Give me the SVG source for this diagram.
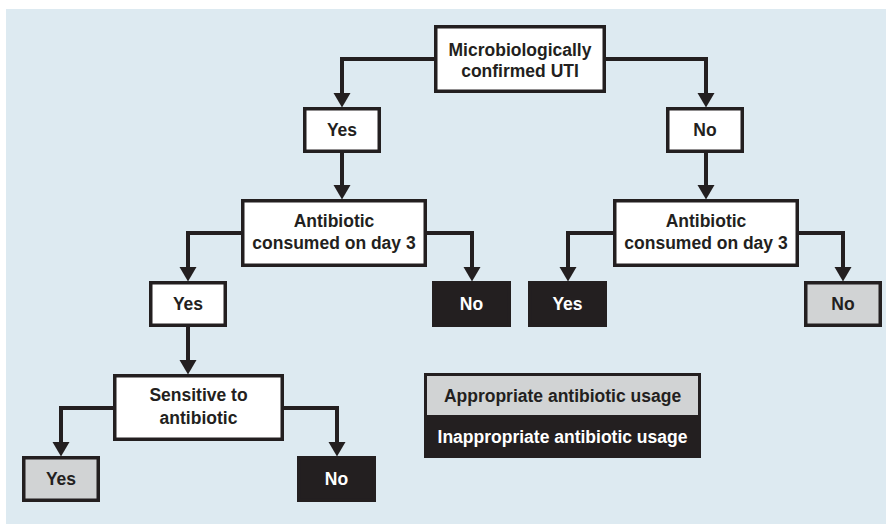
<svg xmlns="http://www.w3.org/2000/svg" width="886" height="524" viewBox="0 0 886 524">
<defs>
<style>
.bg{fill:#ddeaf1}
.w{fill:#ffffff;stroke:#231f20;stroke-width:3.5}
.g{fill:#d1d3d4;stroke:#231f20;stroke-width:3.5}
.k{fill:#231f20;stroke:#231f20;stroke-width:3.5}
.c{fill:none;stroke:#231f20;stroke-width:4;stroke-linejoin:miter}
text{font-family:"Liberation Sans",Arial,sans-serif;font-weight:bold;font-size:17.5px;text-anchor:middle}
.d{fill:#231f20}
.l{fill:#ffffff}
</style>
<marker id="ah" markerUnits="userSpaceOnUse" markerWidth="15" markerHeight="18" refX="0" refY="8.5" orient="auto" viewBox="0 0 15 17">
<path d="M0,0 L14.5,8.5 L0,17 z" fill="#231f20"/>
</marker>
</defs>
<rect class="bg" x="6" y="9" width="880" height="515"/>
<g id="connectors">
<path class="c" d="M434,59 H342 V93" marker-end="url(#ah)"/>
<path class="c" d="M606,59 H706 V93" marker-end="url(#ah)"/>
<path class="c" d="M342,153 V185" marker-end="url(#ah)"/>
<path class="c" d="M706,153 V185" marker-end="url(#ah)"/>
<path class="c" d="M241,233 H188 V267" marker-end="url(#ah)"/>
<path class="c" d="M427,233 H472 V267" marker-end="url(#ah)"/>
<path class="c" d="M613,233 H568 V267" marker-end="url(#ah)"/>
<path class="c" d="M799,233 H843 V267" marker-end="url(#ah)"/>
<path class="c" d="M188,327 V360" marker-end="url(#ah)"/>
<path class="c" d="M113,408 H61 V442" marker-end="url(#ah)"/>
<path class="c" d="M284,408 H337 V442" marker-end="url(#ah)"/>
</g>
<g id="n-uti">
<rect class="w" x="435.75" y="26.75" width="168.5" height="64.5"/>
<text class="d" x="520" y="56">Microbiologically</text>
<text class="d" x="520" y="77">confirmed UTI</text>
</g>
<g id="n-yes1">
<rect class="w" x="304.75" y="108.75" width="74.5" height="42.5"/>
<text class="d" x="342" y="136">Yes</text>
</g>
<g id="n-no1">
<rect class="w" x="667.75" y="108.75" width="74.5" height="42.5"/>
<text class="d" x="705" y="136">No</text>
</g>
<g id="n-ab1">
<rect class="w" x="242.75" y="200.75" width="182.5" height="64.5"/>
<text class="d" x="334" y="227">Antibiotic</text>
<text class="d" x="334" y="249">consumed on day 3</text>
</g>
<g id="n-ab2">
<rect class="w" x="614.75" y="200.75" width="182.5" height="64.5"/>
<text class="d" x="706" y="227">Antibiotic</text>
<text class="d" x="706" y="249">consumed on day 3</text>
</g>
<g id="n-yes2">
<rect class="w" x="150.75" y="282.75" width="74.5" height="42.5"/>
<text class="d" x="188" y="310">Yes</text>
</g>
<g id="n-no2">
<rect class="k" x="433.75" y="282.75" width="75.5" height="42.5"/>
<text class="l" x="471.5" y="310">No</text>
</g>
<g id="n-yes3">
<rect class="k" x="529.75" y="282.75" width="75.5" height="42.5"/>
<text class="l" x="567.5" y="310">Yes</text>
</g>
<g id="n-no3">
<rect class="g" x="805.75" y="282.75" width="74.5" height="42.5"/>
<text class="d" x="843" y="310">No</text>
</g>
<g id="n-sens">
<rect class="w" x="114.75" y="375.75" width="167.5" height="63.5"/>
<text class="d" x="198.5" y="401">Sensitive to</text>
<text class="d" x="198.5" y="424">antibiotic</text>
</g>
<g id="n-yes4">
<rect class="g" x="23.75" y="457.75" width="74.5" height="42.5"/>
<text class="d" x="61" y="485">Yes</text>
</g>
<g id="n-no4">
<rect class="k" x="298.75" y="457.75" width="75.5" height="42.5"/>
<text class="l" x="336.5" y="485">No</text>
</g>
<g id="legend">
<rect x="424" y="373" width="277" height="85" fill="#231f20"/>
<rect x="427" y="376" width="271" height="39" fill="#d1d3d4"/>
<text class="d" x="562.5" y="402">Appropriate antibiotic usage</text>
<text class="l" x="562.5" y="443">Inappropriate antibiotic usage</text>
</g>
</svg>
